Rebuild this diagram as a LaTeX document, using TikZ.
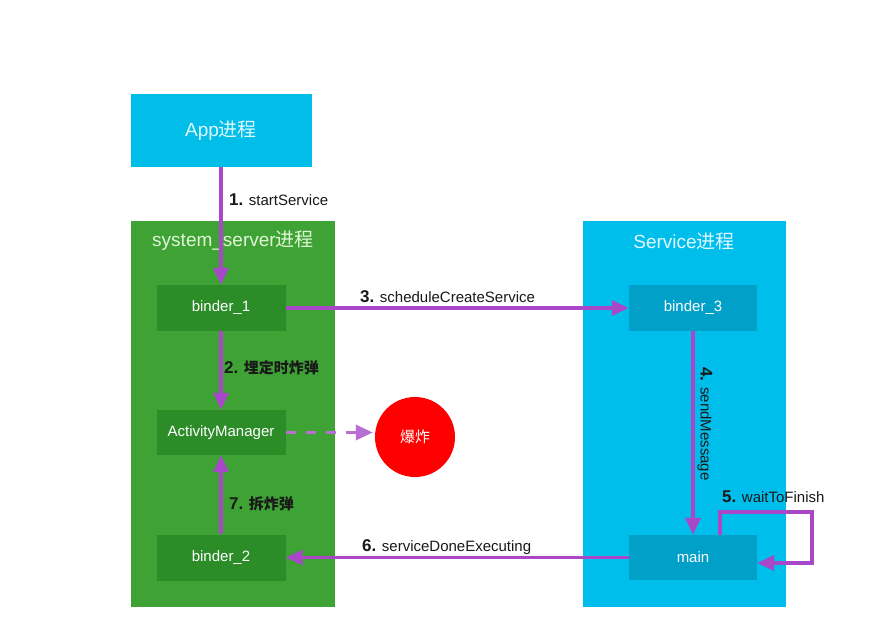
\documentclass[tikz,border=0pt]{standalone}
\usepackage{fontspec}
\setmainfont{Liberation Sans}
\newfontfamily\cjk{Noto Sans CJK SC}
\usetikzlibrary{arrows.meta}
\definecolor{appcyan}{RGB}{0,190,232}
\definecolor{ssgreen}{RGB}{62,163,52}
\definecolor{boxgreen}{RGB}{44,140,40}
\definecolor{svccyan}{RGB}{0,190,235}
\definecolor{boxteal}{RGB}{0,160,200}
\definecolor{arrowpurple}{RGB}{168,72,200}
\definecolor{dashpurple}{RGB}{185,110,210}
\definecolor{bombred}{RGB}{255,0,0}
\definecolor{greentitle}{RGB}{225,245,215}
\definecolor{cyantitle}{RGB}{225,248,255}
\definecolor{labelgrey}{RGB}{25,25,25}
\begin{document}
\begin{tikzpicture}[x=1pt,y=-1pt,
  proc/.style={rectangle, inner sep=0pt, draw=none},
  inner/.style={proc, minimum width=129pt, minimum height=46pt, text=white, font=\fontsize{15}{18}\selectfont},
  title/.style={inner sep=0pt, font=\fontsize{19}{22}\selectfont},
  arr/.style={draw=arrowpurple, line width=3.2pt, -{Triangle[length=17pt,width=15pt]}},
  darr/.style={draw=dashpurple, line width=3.2pt, dash pattern=on 10pt off 10pt, shorten >=2pt, -{Triangle[length=17pt,width=15pt]}},
  lbl/.style={inner sep=0pt, anchor=west, text=labelgrey, font=\fontsize{15}{18}\selectfont}
]
\useasboundingbox[fill=white] (0,0) rectangle (884,626);

% containers
\node[proc, fill=appcyan, minimum width=181pt, minimum height=73pt] (app) at (221,130.5) {};
\node[title, text=cyantitle] (apptitle) at (app.center) {App{\cjk 进程}};
\node[proc, fill=ssgreen, minimum width=204pt, minimum height=386pt] (ss) at (233,414) {};
\node[title, text=greentitle] (sstitle) at (233,241) {system\_server{\cjk 进程}};
\node[proc, fill=svccyan, minimum width=203pt, minimum height=386pt] (svc) at (684.5,414) {};
\node[title, text=cyantitle] (svctitle) at (684,241) {Service{\cjk 进程}};

% inner boxes
\node[inner, fill=boxgreen] (b1) at (221,308) {binder\_1};
\node[inner, fill=boxgreen, minimum height=45pt] (am) at (221,432.5) {ActivityManager};
\node[inner, fill=boxgreen] (b2) at (221,557.5) {binder\_2};
\node[inner, fill=boxteal, minimum width=128pt] (b3) at (693,308) {binder\_3};
\node[inner, fill=boxteal, minimum width=128pt, minimum height=45pt] (main) at (693,557.5) {main};

% bomb
\node[circle, fill=bombred, minimum size=80pt, inner sep=0pt, text=white, font=\fontsize{15}{18}\selectfont\cjk] (bomb) at (415,437) {爆炸};

% connectors
\draw[arr] (app.south) -- (b1.north);
\draw[arr] (b1.south) -- (am.north);
\draw[arr] (b2.north) -- (am.south);
\draw[darr] (am.east) -- (am.east -| bomb.west);
\draw[arr] (b1.east) -- (b3.west);
\draw[arr] (b3.south) -- (main.north);
\coordinate (l5a) at (720,512);
\coordinate (l5b) at (812,563);
\draw[arr] (main.north -| l5a) -- (l5a) -| (l5b) -- (main.east |- l5b);
\draw[arr] (main.west) -- (b2.east);

% labels
\node[lbl] (t1) at (229,200) {{\fontsize{17}{18}\selectfont\bfseries 1.} startService};
\node[lbl] (t2) at (224,368) {{\fontsize{17}{18}\selectfont\bfseries 2.} {\cjk\bfseries 埋定时炸弹}};
\node[lbl] (t3) at (360,297) {{\fontsize{17}{18}\selectfont\bfseries 3.} scheduleCreateService};
\node[inner sep=0pt, text=labelgrey, font=\fontsize{15}{18}\selectfont, rotate=-90] (t4) at (705,424) {{\fontsize{17}{18}\selectfont\bfseries 4.} sendMessage};
\node[lbl] (t5) at (722,497) {{\fontsize{17}{18}\selectfont\bfseries 5.} waitToFinish};
\node[lbl] (t6) at (362,547) {{\fontsize{17}{18}\selectfont\bfseries 6.} serviceDoneExecuting};
\node[lbl] (t7) at (229,504) {{\fontsize{17}{18}\selectfont\bfseries 7.} {\cjk\bfseries 拆炸弹}};
\end{tikzpicture}
\end{document}
